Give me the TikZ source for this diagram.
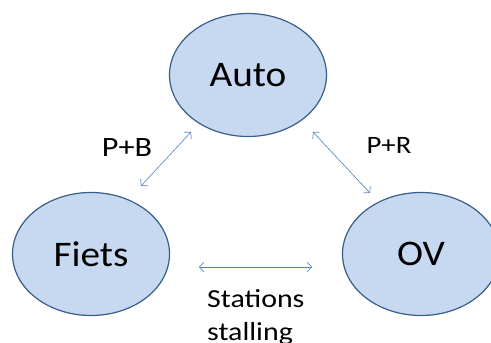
\documentclass[tikz,border=0pt]{standalone}
\usepackage{fontspec}
\setmainfont{Carlito}
\newfontfamily\bigfont[FakeStretch=1.09]{Carlito}
\newfontfamily\smallfont[FakeStretch=1.15]{Carlito}
\usetikzlibrary{shapes.geometric,arrows.meta}
\definecolor{ellfill}{RGB}{198,217,240}
\definecolor{elldraw}{RGB}{56,93,138}
\definecolor{arrcol}{RGB}{79,129,189}
\tikzset{
  mode/.style={ellipse, draw=elldraw, fill=ellfill, line width=1.2pt, minimum width=157pt, minimum height=123pt, inner sep=0pt, font=\bigfont\fontsize{36}{40}\selectfont},
  link/.style={draw=arrcol, line width=0.6pt, {Straight Barb[length=4.5pt,width=10pt]}-{Straight Barb[length=4.5pt,width=10pt]}},
  lbl/.style={font=\smallfont\fontsize{28}{32}\selectfont, inner sep=0pt}
}
\begin{document}
\begin{tikzpicture}[x=1pt,y=-1pt]
\useasboundingbox (0,0) rectangle (491,343);
\node[mode] (auto) at (248,75) {Auto};
\node[mode] (fiets) at (91,254) {Fiets};
\node[mode] (ov) at (421,254) {OV};
\coordinate (pb1) at (141,186);
\coordinate (pb2) at (191,132);
\coordinate (pr1) at (313,132);
\coordinate (pr2) at (370,193);
\coordinate (st1) at (199,267);
\coordinate (st2) at (312,267);
\draw[link] (pb1) -- (pb2);
\draw[link] (pr1) -- (pr2);
\draw[link] (st1) -- (st2);
\node[lbl] (pb) at (127,148) {P+B};
\node[lbl, font=\smallfont\fontsize{25}{30}\selectfont] (pr) at (389,145) {P+R};
\node[anchor=north west, inner sep=0pt, align=left, font=\smallfont\fontsize{26}{33}\selectfont] (st) at (207,289) {Stations\\stalling};
\end{tikzpicture}
\end{document}
